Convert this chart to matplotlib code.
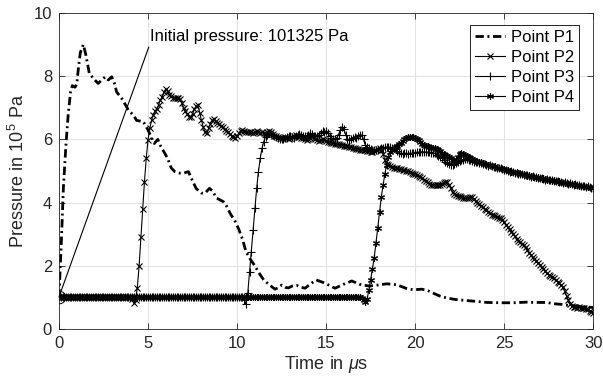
import numpy as np
import matplotlib.pyplot as plt

plt.rcParams['font.family'] = ['Liberation Sans', 'DejaVu Sans']
plt.rcParams['font.size'] = 12
plt.rcParams['mathtext.fontset'] = 'custom'
plt.rcParams['mathtext.rm'] = 'Liberation Sans'
plt.rcParams['mathtext.it'] = 'Liberation Sans:italic'

# initial pressure in 10^5 Pa
p0 = 1.01325

# Point P1 (no markers, own time samples)
t1 = [0, 0.15, 0.25, 0.4, 0.52, 0.65, 0.75, 0.9, 1.0, 1.1,
      1.2, 1.37, 1.5, 1.7, 1.9, 2.2, 2.4, 2.6, 2.77, 2.96,
      3.1, 3.24, 3.52, 3.9, 4.2, 4.36, 4.74, 5.0, 5.2, 5.35,
      5.55, 5.7, 5.9, 6.1, 6.3, 6.5, 6.8, 7.0, 7.27, 7.45,
      7.7, 8.0, 8.2, 8.45, 8.6, 8.86, 9.23, 9.4, 9.61, 9.9,
      10.1, 10.3, 10.5, 10.75, 11.0, 11.2, 11.5, 11.85, 12.13, 12.3,
      12.51, 12.7, 12.88, 13.1, 13.35, 13.6, 13.82, 14.1, 14.45, 14.8,
      15.04, 15.5, 16.0, 16.44, 17.0, 17.47, 17.9, 18.41, 18.97, 19.53,
      19.9, 20.37, 20.7, 21.03, 21.4, 21.78, 22.3, 22.9, 23.5, 24.03,
      24.78, 25.5, 26.27, 26.65, 27.4, 27.77, 28.2, 28.7, 29.2, 29.6,
      30]
p1 = [1.0, 3.0, 4.5, 5.9, 6.8, 7.5, 7.7, 7.65, 7.75, 8.3,
      8.75, 9.0, 8.7, 8.1, 7.95, 7.77, 7.88, 7.98, 7.88, 7.98,
      7.8, 7.5, 7.3, 6.93, 6.75, 6.6, 6.56, 6.3, 6.05, 5.87,
      6.0, 5.8, 5.6, 5.4, 5.1, 4.98, 4.93, 4.93, 4.98, 4.75,
      4.45, 4.3, 4.3, 4.45, 4.38, 4.14, 4.03, 3.9, 3.66, 3.4,
      3.15, 2.85, 2.45, 2.2, 2.0, 1.8, 1.55, 1.38, 1.26, 1.3,
      1.39, 1.32, 1.3, 1.36, 1.38, 1.32, 1.29, 1.42, 1.55, 1.48,
      1.42, 1.29, 1.42, 1.52, 1.39, 1.36, 1.39, 1.43, 1.4, 1.28,
      1.24, 1.26, 1.22, 1.13, 1.04, 0.98, 0.93, 0.9, 0.87, 0.84,
      0.83, 0.83, 0.85, 0.84, 0.84, 0.8, 0.78, 0.74, 0.72, 0.7,
      0.68]

# P2..P4 sampled every 0.1 us from 0 to 30
t = np.round(np.arange(301) * 0.1, 1)

# each row below = one microsecond (k.0 ... k.9)
p2 = [p0] * 40 + [
    1.01, 0.95, 0.83, 0.92, 1.31, 2.0, 2.9, 3.8, 4.66, 5.4,
    5.98, 6.35, 6.6, 6.77, 6.9, 6.97, 7.1, 7.25, 7.35, 7.5,
    7.6, 7.52, 7.42, 7.36, 7.32, 7.32, 7.3, 7.32, 7.28, 7.15,
    7.0, 6.9, 6.8, 6.72, 6.72, 6.8, 6.95, 7.05, 7.08, 6.85,
    6.6, 6.4, 6.22, 6.19, 6.35, 6.5, 6.6, 6.64, 6.58, 6.52,
    6.48, 6.42, 6.38, 6.32, 6.28, 6.22, 6.16, 6.1, 6.06, 6.05,
    6.1, 6.2, 6.28, 6.3, 6.26, 6.24, 6.22, 6.24, 6.22, 6.2,
    6.22, 6.25, 6.22, 6.2, 6.22, 6.2, 6.18, 6.22, 6.25, 6.22,
    6.18, 6.12, 6.1, 6.08, 6.05, 6.03, 6.05, 6.08, 6.05, 6.02,
    6.05, 6.08, 6.12, 6.15, 6.12, 6.08, 6.05, 6.03, 6.0, 5.98,
    6.0, 6.05, 6.08, 6.05, 6.0, 5.97, 5.95, 5.97, 6.0, 5.98,
    5.95, 5.93, 5.92, 5.9, 5.88, 5.86, 5.85, 5.84, 5.82, 5.82,
    5.8, 5.8, 5.78, 5.76, 5.75, 5.73, 5.72, 5.7, 5.7, 5.68,
    5.67, 5.66, 5.65, 5.64, 5.62, 5.6, 5.6, 5.62, 5.66, 5.7,
    5.72, 5.68, 5.55, 5.35, 5.22, 5.18, 5.16, 5.13, 5.1, 5.1,
    5.08, 5.06, 5.05, 5.04, 5.02, 5.0, 4.99, 4.98, 4.95, 4.92,
    4.9, 4.87, 4.84, 4.82, 4.78, 4.73, 4.68, 4.64, 4.6, 4.57,
    4.56, 4.56, 4.55, 4.55, 4.57, 4.6, 4.63, 4.66, 4.65, 4.55,
    4.45, 4.35, 4.28, 4.24, 4.22, 4.2, 4.18, 4.15, 4.13, 4.13,
    4.15, 4.18, 4.17, 4.12, 4.05, 4.0, 3.95, 3.9, 3.85, 3.8,
    3.75, 3.7, 3.66, 3.62, 3.6, 3.58, 3.55, 3.52, 3.5, 3.45,
    3.38, 3.3, 3.22, 3.15, 3.08, 3.0, 2.93, 2.86, 2.8, 2.75,
    2.7, 2.65, 2.58, 2.5, 2.42, 2.35, 2.27, 2.2, 2.15, 2.1,
    2.04, 1.97, 1.9, 1.82, 1.76, 1.72, 1.68, 1.64, 1.6, 1.56,
    1.5, 1.44, 1.38, 1.32, 1.2, 1.05, 0.92, 0.8, 0.72, 0.7,
    0.7, 0.68, 0.7, 0.68, 0.66, 0.65, 0.64, 0.62, 0.58, 0.54,
    0.5]

p3 = [p0] * 100 + [
    1.01, 1.01, 1.01, 1.01, 0.92, 0.78, 1.13, 1.8, 2.45, 3.13,
    3.82, 4.45, 4.98, 5.4, 5.72, 5.93, 6.08, 6.15, 6.2, 6.18,
    6.15, 6.1, 6.08, 6.05, 6.02, 6.0, 6.02, 6.05, 6.08, 6.1,
    6.1, 6.08, 6.05, 6.1, 6.15, 6.18, 6.15, 6.12, 6.1, 6.12,
    6.15, 6.2, 6.17, 6.12, 6.1, 6.12, 6.15, 6.2, 6.25, 6.22,
    6.27, 6.2, 6.1, 6.05, 6.02, 6.0, 6.05, 6.15, 6.3, 6.4,
    6.32, 6.15, 6.02, 5.98, 6.0, 6.05, 6.08, 6.05, 6.1, 6.15,
    6.14, 6.0, 5.82, 5.75, 5.72, 5.7, 5.68, 5.66, 5.66, 5.68,
    5.7, 5.72, 5.74, 5.75, 5.76, 5.76, 5.75, 5.74, 5.72, 5.7,
    5.62, 5.58, 5.56, 5.55, 5.56, 5.56, 5.55, 5.56, 5.56, 5.57,
    5.58, 5.59, 5.6, 5.61, 5.61, 5.6, 5.6, 5.6, 5.59, 5.58,
    5.57, 5.56, 5.52, 5.48, 5.44, 5.4, 5.35, 5.3, 5.26, 5.22,
    5.2, 5.2, 5.21, 5.24, 5.28, 5.31, 5.34, 5.36, 5.38, 5.38,
    5.36, 5.34, 5.31, 5.3, 5.28, 5.27, 5.26, 5.24, 5.22, 5.21,
    5.2, 5.17, 5.18, 5.15, 5.12, 5.13, 5.1, 5.08, 5.09, 5.05,
    5.03, 5.04, 5.0, 4.98, 4.99, 4.96, 4.93, 4.95, 4.92, 4.89,
    4.9, 4.88, 4.86, 4.87, 4.84, 4.82, 4.83, 4.8, 4.81, 4.78,
    4.77, 4.78, 4.75, 4.73, 4.74, 4.71, 4.72, 4.7, 4.68, 4.69,
    4.67, 4.65, 4.66, 4.63, 4.64, 4.61, 4.6, 4.62, 4.59, 4.57,
    4.58, 4.55, 4.56, 4.53, 4.52, 4.54, 4.5, 4.51, 4.48, 4.47,
    4.46]

p4 = [p0] * 170 + [
    0.98, 0.92, 0.84, 0.95, 1.22, 1.55, 1.9, 2.25, 2.72, 3.2,
    3.7, 4.18, 4.56, 4.9, 5.2, 5.45, 5.6, 5.66, 5.7, 5.76,
    5.8, 5.85, 5.9, 5.95, 6.0, 6.03, 6.06, 6.08, 6.09, 6.08,
    6.05, 6.01, 5.97, 5.92, 5.87, 5.83, 5.8, 5.78, 5.76, 5.74,
    5.73, 5.72, 5.7, 5.66, 5.62, 5.58, 5.54, 5.5, 5.47, 5.43,
    5.4, 5.36, 5.32, 5.35, 5.45, 5.53, 5.56, 5.54, 5.5, 5.47,
    5.45, 5.42, 5.38, 5.35, 5.33, 5.3, 5.28, 5.27, 5.25, 5.23,
    5.22, 5.19, 5.2, 5.16, 5.14, 5.15, 5.11, 5.1, 5.08, 5.07,
    5.05, 5.02, 5.03, 5.0, 4.98, 4.97, 4.95, 4.96, 4.93, 4.91,
    4.9, 4.89, 4.87, 4.85, 4.86, 4.83, 4.82, 4.81, 4.79, 4.8,
    4.78, 4.76, 4.77, 4.74, 4.72, 4.73, 4.71, 4.69, 4.7, 4.67,
    4.66, 4.67, 4.64, 4.63, 4.62, 4.63, 4.6, 4.59, 4.58, 4.58,
    4.56, 4.57, 4.54, 4.53, 4.54, 4.51, 4.5, 4.5, 4.48, 4.46,
    4.45]

fig = plt.figure(figsize=(6.03, 3.81), dpi=100)
ax = fig.add_axes([0.0978, 0.1365, 0.886, 0.8294])

ax.plot(t1, p1, color='k', lw=2.0, linestyle=(0, (3, 1.3, 0.7, 1.3)), label='Point P1')
ax.plot(t, p2, 'k-', marker='x', ms=4.5, mew=0.8, lw=0.8, label='Point P2')
ax.plot(t, p3, 'k-', marker='+', ms=5.5, mew=0.8, lw=0.8, label='Point P3')
ax.plot(t, p4, 'k-', marker=(6, 2, 0), ms=5, mew=0.8, lw=0.8, label='Point P4')

# initial pressure marker and callout
ax.plot(t[0], p2[0], 'o', mfc='none', mec='k', ms=9, mew=0.7)
ax.annotate('Initial pressure: 101325 Pa', xy=(t[0], p2[0]), xytext=(5.1, 9.25),
            va='center', ha='left', fontsize=12,
            arrowprops=dict(arrowstyle='-', color='k', lw=0.8,
                            relpos=(0, 0), shrinkA=0, shrinkB=0))

ax.set_xlim(0, 30)
ax.set_ylim(0, 10)
ax.set_xticks(range(0, 31, 5))
ax.set_yticks(range(0, 11, 2))
ax.grid(True, color='#e3e3e3', lw=0.8)
ax.set_axisbelow(True)
ax.tick_params(direction='in', top=True, right=True, length=4, width=0.6,
               colors='#262626', labelsize=12, pad=5)
for s in ax.spines.values():
    s.set_color('#262626')
    s.set_linewidth(0.6)

ax.set_xlabel(r'Time in $\mu$s', fontsize=13, color='#262626', labelpad=2)
ax.set_ylabel(r'Pressure in 10$^{\,5}$ Pa', fontsize=13, color='#262626', labelpad=4)

leg = ax.legend(loc='upper right', bbox_to_anchor=(0.973, 0.962), borderaxespad=0,
                fancybox=False, edgecolor='k', framealpha=1, fontsize=12,
                handlelength=1.8, handletextpad=0.35, labelspacing=0.3, borderpad=0.3)
leg.get_frame().set_linewidth(0.6)

plt.savefig('out.png', dpi=100)
